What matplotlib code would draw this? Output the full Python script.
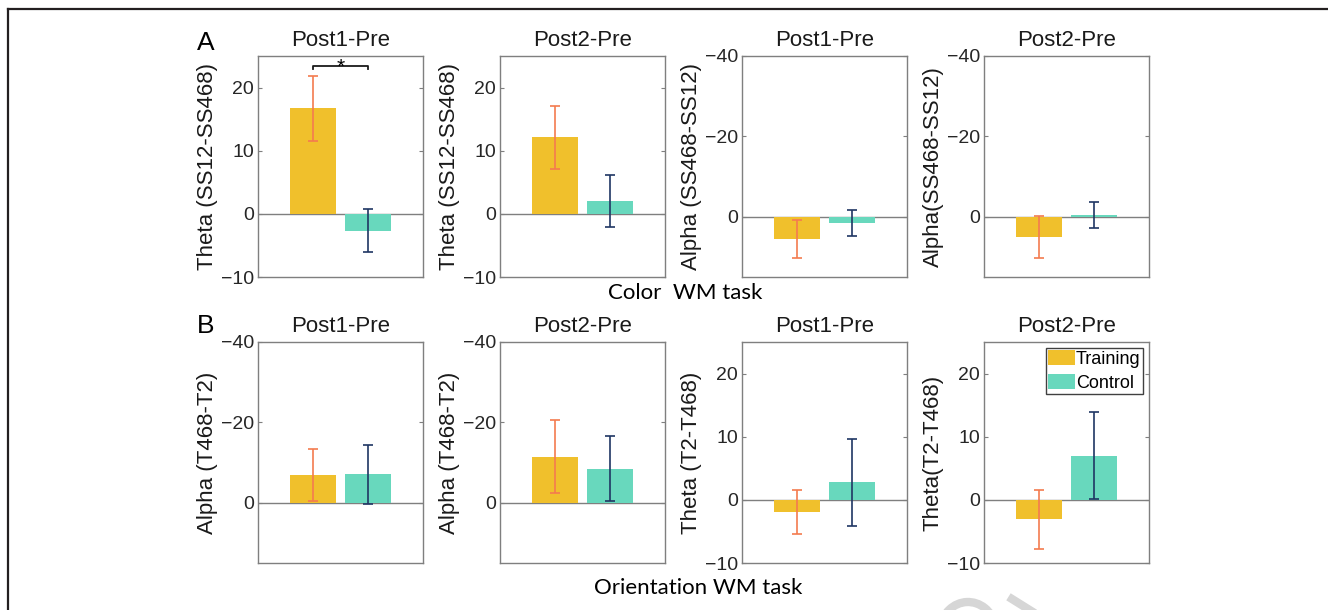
import matplotlib
matplotlib.use('Agg')
import matplotlib.pyplot as plt
from matplotlib.patches import Arc
from matplotlib.lines import Line2D

# panel order: A1..A4, B1..B4
titles = ['Post1-Pre', 'Post2-Pre', 'Post1-Pre', 'Post2-Pre',
          'Post1-Pre', 'Post2-Pre', 'Post1-Pre', 'Post2-Pre']
ylabels = ['Theta (SS12-SS468)', 'Theta (SS12-SS468)', 'Alpha (SS468-SS12)', 'Alpha(SS468-SS12)',
           'Alpha (T468-T2)', 'Alpha (T468-T2)', 'Theta (T2-T468)', 'Theta(T2-T468)']
training_mean = [16.7, 12.1, 5.6, 5.0, -6.9, -11.5, -1.9, -3.1]
training_err = [5.2, 5.0, 4.7, 5.2, 6.4, 9.0, 3.5, 4.7]
control_mean = [-2.7, 2.0, 1.6, -0.5, -7.1, -8.5, 2.8, 7.0]
control_err = [3.4, 4.1, 3.3, 3.2, 7.3, 8.1, 6.9, 6.9]
theta_ticks = [-10, 0, 10, 20]
alpha_ticks = [-40, -20, 0]
reversed_panel = [False, False, True, True, True, True, False, False]

group_labels = ['Training', 'Control']
bar_colors = ['#F0C02C', '#68D8BD']
err_colors = ['#F47B4F', '#1F3663']
frame_gray = '#7F7F7F'

plt.rcParams['font.family'] = ['Liberation Sans', 'DejaVu Sans']

fig = plt.figure(figsize=(13.28, 6.10), dpi=100)
W, H = 1328.0, 610.0

col_left = [258, 500, 742, 984]
row_top = [56, 342]
ax_w, ax_h = 165, 221

axes = []
for i in range(8):
    r, c = divmod(i, 4)
    ax = fig.add_axes([col_left[c] / W, 1 - (row_top[r] + ax_h) / H, ax_w / W, ax_h / H])
    axes.append(ax)

    means = [training_mean[i], control_mean[i]]
    errs = [training_err[i], control_err[i]]
    for k in range(2):
        ax.bar(k + 1, means[k], width=0.84, color=bar_colors[k], label=group_labels[k], zorder=2)
        ax.errorbar(k + 1, means[k], yerr=errs[k], fmt='none', ecolor=err_colors[k],
                    elinewidth=1.2, capsize=3.5, capthick=1.2, zorder=3)
    ax.axhline(0, color=frame_gray, lw=1, zorder=1)

    ax.set_xlim(0, 3)
    if reversed_panel[i]:
        ax.set_ylim(15, -40)
        ax.set_yticks(alpha_ticks)
    else:
        ax.set_ylim(-10, 25)
        ax.set_yticks(theta_ticks)
    ax.set_xticks([])

    for s in ax.spines.values():
        s.set_color(frame_gray)
        s.set_linewidth(1)
    ax.tick_params(axis='y', direction='in', length=3, color=frame_gray, right=True,
                   labelsize=14, labelcolor='#262626', pad=3)
    ax.set_title(titles[i], fontsize=16, pad=7, color='#1a1a1a')
    ax.set_ylabel(ylabels[i], fontsize=16, labelpad=2, color='#1a1a1a')

# significance bracket in A1
ax = axes[0]
ax.plot([1, 1, 2, 2], [22.9, 23.4, 23.4, 22.9], color='#1a1a1a', lw=1.3, zorder=4)
ax.text(1.5, 22.4, '*', ha='center', va='baseline', fontsize=15, zorder=4)

axes[7].legend(loc='upper right', fontsize=13, frameon=True, fancybox=False,
               edgecolor='#404040', framealpha=1, borderpad=0.12, handlelength=1.5,
               handleheight=0.9, handletextpad=0.05, labelspacing=0.33, borderaxespad=0.35)

# panel letters and task captions
fig.text(197 / W, 1 - 50 / H, 'A', fontsize=19, ha='left', va='baseline')
fig.text(197 / W, 1 - 333 / H, 'B', fontsize=19, ha='left', va='baseline')
fig.text(685 / W, 1 - 293 / H, 'Color  WM task', family='Lato', fontsize=16, ha='center', va='center')
fig.text(698 / W, 1 - 588 / H, 'Orientation WM task', family='Lato', fontsize=16, ha='center', va='center')

# page border
fig.add_artist(Line2D([7.5 / W, 1], [1 - 9 / H, 1 - 9 / H], transform=fig.transFigure,
                      color='#231F20', lw=1.6))
fig.add_artist(Line2D([7.5 / W, 7.5 / W], [0, 1 - 9 / H], transform=fig.transFigure,
                      color='#231F20', lw=1.6))

# faint watermark at the bottom edge
fig.add_artist(Arc((968 / W, 1 - 632 / H), 56 / W, 60 / H, theta1=30, theta2=160,
                   transform=fig.transFigure, color='#D6D6D6', lw=6))
fig.add_artist(Line2D([1012 / W, 1036 / W], [1 - 599 / H, 1 - 614 / H], transform=fig.transFigure,
                      color='#D6D6D6', lw=6))

fig.savefig('out.png', dpi=100)
